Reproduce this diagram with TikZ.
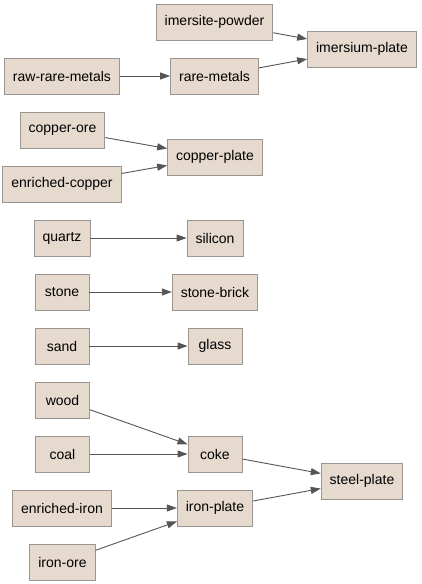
\documentclass[tikz,border=0pt]{standalone}
\usepackage{fontspec}
\setmainfont{Liberation Sans}
\usetikzlibrary{arrows.meta}
\definecolor{boxfill}{HTML}{E6DACE}
\definecolor{boxline}{HTML}{9A9590}
\definecolor{edgecol}{HTML}{555555}
\begin{document}
\begin{tikzpicture}[x=1pt,y=-1pt,
  item/.style={draw=boxline, fill=boxfill, line width=0.9pt, minimum height=36pt, minimum width=54pt, inner xsep=8.5pt, inner ysep=0pt, font=\fontsize{14pt}{16pt}\selectfont},
  flow/.style={draw=edgecol, line width=0.9pt, -{Triangle[length=10pt,width=7pt]}}]
\useasboundingbox (0,0) rectangle (421,584);
\node[item] (imp) at (214.5,22) {imersite-powder};
\node[item] (ipl) at (362,49) {imersium-plate};
\node[item] (rrm) at (62,76) {raw-rare-metals};
\node[item] (rm) at (214.5,76) {rare-metals};
\node[item] (co) at (62.5,130) {copper-ore};
\node[item] (cp) at (215,157) {copper-plate};
\node[item] (ec) at (62,184) {enriched-copper};
\node[item] (qz) at (62,238) {quartz};
\node[item] (si) at (215,238) {silicon};
\node[item] (st) at (62,292) {stone};
\node[item] (sb) at (215,292) {stone-brick};
\node[item] (sa) at (62,346) {sand};
\node[item] (gl) at (215,346) {glass};
\node[item] (wo) at (62.5,400) {wood};
\node[item] (coal) at (62.5,454) {coal};
\node[item] (ck) at (215,454) {coke};
\node[item] (sp) at (362,481) {steel-plate};
\node[item] (ei) at (62,508) {enriched-iron};
\node[item] (ip) at (215,508) {iron-plate};
\node[item] (io) at (62.5,562) {iron-ore};
\draw[flow] (imp) -- (ipl);
\draw[flow] (rm) -- (ipl);
\draw[flow] (rrm) -- (rm);
\draw[flow] (co) -- (cp);
\draw[flow] (ec) -- (cp);
\draw[flow] (qz) -- (si);
\draw[flow] (st) -- (sb);
\draw[flow] (sa) -- (gl);
\draw[flow] (wo) -- (ck);
\draw[flow] (coal) -- (ck);
\draw[flow] (ck) -- (sp);
\draw[flow] (ei) -- (ip);
\draw[flow] (io) -- (ip);
\draw[flow] (ip) -- (sp);
\end{tikzpicture}
\end{document}
